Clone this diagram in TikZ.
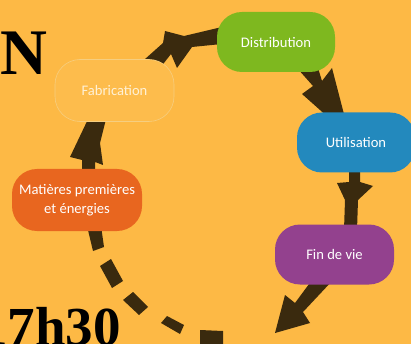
\documentclass[tikz,border=0pt]{standalone}
\usepackage{fontspec}
\setmainfont{Liberation Serif}
\newfontfamily\boxfont{Carlito}
\definecolor{bg}{RGB}{253,185,69}
\definecolor{arrowc}{RGB}{58,42,14}
\definecolor{greenc}{RGB}{126,184,31}
\definecolor{bluec}{RGB}{35,137,189}
\definecolor{purplec}{RGB}{147,65,142}
\definecolor{orangec}{RGB}{232,102,31}
\definecolor{fabc}{RGB}{253,188,76}
\definecolor{fabborder}{RGB}{246,206,128}
\definecolor{fabtext}{RGB}{255,241,214}
\begin{document}
\begin{tikzpicture}[x=1pt,y=-1pt,
  arr/.style={fill=arrowc},
  stage/.style={rounded corners=25pt, minimum height=60pt, inner sep=0pt,
    text=white, font=\boxfont\fontsize{14.6}{19.5}\selectfont, align=center}]
\useasboundingbox (0,0) rectangle (411,344);
\clip (0,0) rectangle (411,344);
\fill[bg] (0,0) rectangle (411,344);
% arrows
\fill[arr] (82,174) -- (82,160) -- (70,157) -- (90,115) -- (107,115) -- (100,143) -- (103,165) -- (95,162) -- (95,174) -- cycle;
\fill[arr] (135,68) -- (163,43) -- (165,31) -- (184,36) -- (222,27) -- (222,44) -- (192,47) -- (177,68) -- (171,54) -- (160,68) -- cycle;
\fill[arr] (297,68) -- (313,86) -- (302,94) -- (329,118) -- (345,118) -- (332,68) -- (322,81) -- (318,68) -- cycle;
\fill[arr] (349,170) -- (349,182) -- (337,183) -- (345,200) -- (344,230) -- (357,230) -- (358,200) -- (373,186) -- (360,182) -- (360,170) -- cycle;
\fill[arr] (312,280) -- (295,303) -- (285,295) -- (275,333) -- (310,323) -- (303,312) -- (333,280) -- cycle;
% dashed return
\fill[arr] (87,226) -- (101,226) -- (104,247) -- (93,251) -- cycle;
\fill[arr] (100,266) -- (111,259) -- (123,281) -- (112,288) -- cycle;
\fill[arr] (123,300) -- (133,292) -- (148,307) -- (139,315) -- cycle;
\fill[arr] (161,323) -- (167,316) -- (184,325) -- (180,334) -- cycle;
\fill[arr] (200,330) -- (223,331) -- (223,346) -- (200,346) -- cycle;
% stages
\node[stage, fill=greenc, minimum width=118pt] (dist) at (276,42) {Distribution};
\node[stage, fill=bluec, minimum width=118pt] (util) at (356,142.5) {Utilisation};
\node[stage, fill=purplec, minimum width=119pt] (fin) at (334.5,254.5) {Fin de vie};
\node[stage, fill=fabc, draw=fabborder, line width=0.6pt, text=fabtext, minimum width=119pt, minimum height=62pt] (fab) at (114.5,90.5) {Fabrication};
\node[stage, fill=orangec, minimum width=130pt, minimum height=62pt] (mat) at (77,200) {Matières premières\\et énergies};
% big texts
\node[font=\bfseries\fontsize{65}{65}\selectfont, anchor=base west, inner sep=0pt] (bigletter) at (0,75) {N};
\node[font=\bfseries\fontsize{55}{55}\selectfont, anchor=base east, inner sep=0pt] (time) at (121,345) {17h30};
\end{tikzpicture}
\end{document}
